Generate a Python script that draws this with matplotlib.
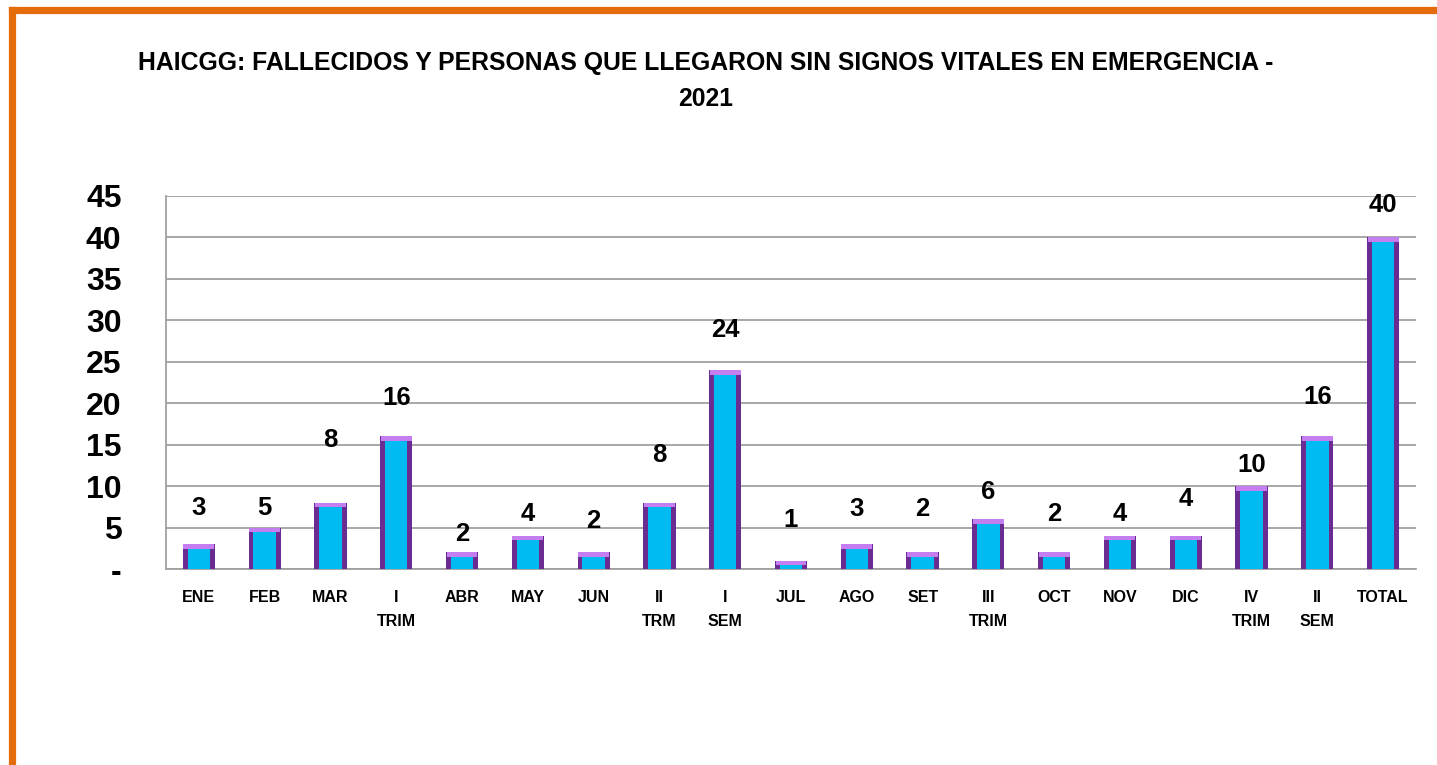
import matplotlib.pyplot as plt
from matplotlib.lines import Line2D

# Data
categories = ['ENE', 'FEB', 'MAR', 'I\nTRIM', 'ABR', 'MAY', 'JUN', 'II\nTRM', 'I\nSEM',
              'JUL', 'AGO', 'SET', 'III\nTRIM', 'OCT', 'NOV', 'DIC', 'IV\nTRIM', 'II\nSEM', 'TOTAL']
values = [3, 5, 8, 16, 2, 4, 2, 8, 24, 1, 3, 2, 6, 2, 4, 4, 10, 16, 40]
y_ticks = [0, 5, 10, 15, 20, 25, 30, 35, 40, 45]
y_tick_labels = ['-', '5', '10', '15', '20', '25', '30', '35', '40', '45']
title = 'HAICGG: FALLECIDOS Y PERSONAS QUE LLEGARON SIN SIGNOS VITALES EN EMERGENCIA -\n2021'

# label offsets above bar tops (pixels), as placed in the original
label_offsets = [36, 20, 63, 38, 18, 22, 31, 48, 40, 41, 35, 43, 27, 38, 22, 37, 21, 39, 32]

plt.rcParams['font.family'] = ['Liberation Sans', 'DejaVu Sans']

fig = plt.figure(figsize=(14.37, 7.65), dpi=100)
ax = fig.add_axes([0.1155, 0.2562, 0.8699, 0.4876])

x = list(range(len(categories)))
bar_w = 0.49
edge_w = 0.075
cap_h = 0.55

# outer purple bar, inner cyan, light purple bevel on top
ax.bar(x, values, width=bar_w, color='#6A2C91', zorder=3)
ax.bar(x, [v - cap_h * 0.5 for v in values], width=bar_w - 2 * edge_w, color='#00BAF2', zorder=4)
ax.bar(x, [cap_h] * len(values), bottom=[v - cap_h for v in values], width=bar_w - 0.02,
       color='#C57EF0', zorder=5)

for xi, v, off in zip(x, values, label_offsets):
    ax.annotate(str(v), (xi, v), xytext=(0, off * 0.72), textcoords='offset points',
                ha='center', va='center', fontsize=18.5, fontweight='bold', zorder=6)

ax.set_xlim(-0.5, len(categories) - 0.5)
ax.set_ylim(0, 45)
ax.set_yticks(y_ticks)
ax.set_yticklabels(y_tick_labels, fontsize=23, fontweight='bold')
ax.set_xticks(x)
ax.set_xticklabels(categories, fontsize=11.5, fontweight='bold', va='top', linespacing=1.75)
ax.tick_params(axis='both', length=0)
ax.tick_params(axis='y', pad=32)
ax.tick_params(axis='x', pad=15)
ax.grid(axis='y', color='#A0A0A0', linewidth=1.3, zorder=0)
ax.set_axisbelow(True)
for s in ['top', 'right']:
    ax.spines[s].set_visible(False)
ax.spines['left'].set_color('#A0A0A0')
ax.spines['left'].set_linewidth(1.3)
ax.spines['bottom'].set_color('#A0A0A0')
ax.spines['bottom'].set_linewidth(1.3)

fig.text(0.491, 0.894, title, ha='center', va='center', fontsize=17.8, fontweight='bold',
         linespacing=1.62)

# orange frame (clipped at right and bottom)
fig.add_artist(Line2D([11.5 / 1437, 11.5 / 1437], [0, 1 - 9.5 / 765], color='#E46C0A',
                      linewidth=5.2, transform=fig.transFigure, solid_capstyle='projecting'))
fig.add_artist(Line2D([11.5 / 1437, 1], [1 - 9.5 / 765, 1 - 9.5 / 765], color='#E46C0A',
                      linewidth=5.2, transform=fig.transFigure, solid_capstyle='projecting'))

fig.savefig('out.png', dpi=100)
